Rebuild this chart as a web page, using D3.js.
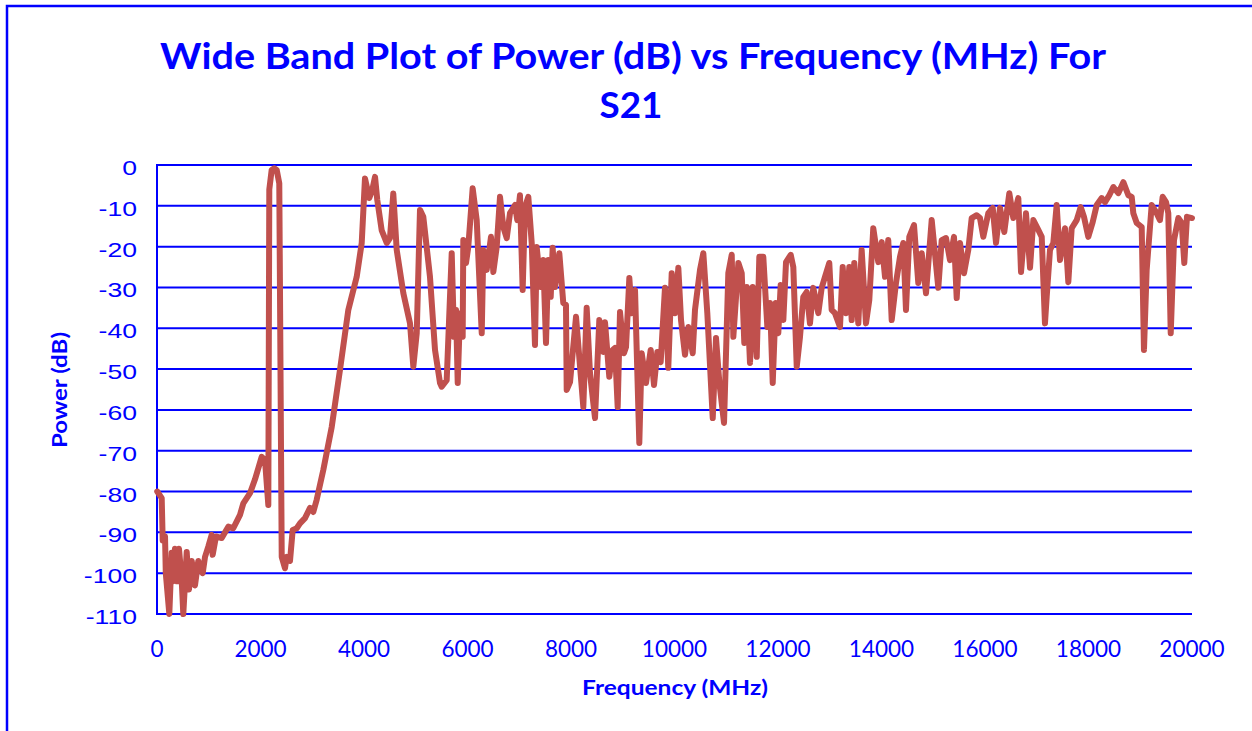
<!DOCTYPE html>
<html>
<head>
<meta charset="utf-8">
<script src="https://cdn.jsdelivr.net/npm/d3@7"></script>
<style>
  html, body { margin: 0; padding: 0; background: #fff; }
  svg { display: block; }
</style>
</head>
<body>
<svg id="chart" width="1252" height="731"></svg>
<script>
const titleLines = ["Wide Band Plot of Power (dB) vs Frequency (MHz) For", "S21"];
const xLabel = "Frequency (MHz)";
const yLabel = "Power (dB)";
const xTicks = [0, 2000, 4000, 6000, 8000, 10000, 12000, 14000, 16000, 18000, 20000];
const yTicks = [0, -10, -20, -30, -40, -50, -60, -70, -80, -90, -100, -110];

const freq = [
  5, 91, 110, 155, 170, 238, 284, 309, 348, 386, 425, 477, 508, 574, 618, 671, 734, 798, 883, 928,
  991, 1057, 1076, 1140, 1250, 1378, 1474, 1604, 1668, 1797, 1894, 2023, 2087, 2151, 2170, 2216, 2265, 2313, 2363, 2410,
  2473, 2506, 2570, 2622, 2700, 2763, 2860, 2957, 3020, 3086, 3214, 3376, 3536, 3697, 3859, 3956, 4019, 4102, 4160, 4213,
  4257, 4342, 4439, 4502, 4566, 4632, 4760, 4889, 4953, 5019, 5082, 5146, 5275, 5372, 5469, 5501, 5598, 5695, 5739, 5778,
  5811, 5855, 5907, 5919, 5971, 6015, 6100, 6178, 6275, 6306, 6371, 6454, 6499, 6564, 6628, 6692, 6758, 6821, 6918, 6962,
  7014, 7066, 7111, 7175, 7241, 7304, 7337, 7414, 7464, 7517, 7561, 7608, 7646, 7691, 7774, 7851, 7903, 7917, 7981, 8097,
  8238, 8303, 8367, 8464, 8547, 8624, 8657, 8740, 8806, 8850, 8902, 8947, 9024, 9063, 9127, 9173, 9237, 9320, 9366, 9449,
  9540, 9604, 9668, 9733, 9816, 9880, 9946, 10010, 10074, 10126, 10203, 10267, 10352, 10396, 10493, 10557, 10634, 10739, 10802, 10866,
  10957, 11040, 11106, 11137, 11234, 11299, 11349, 11396, 11459, 11511, 11589, 11639, 11716, 11794, 11846, 11898, 11956, 12006, 12052, 12103,
  12155, 12246, 12296, 12362, 12425, 12489, 12555, 12618, 12682, 12779, 12844, 12908, 12991, 13037, 13101, 13198, 13250, 13314, 13378, 13424,
  13474, 13552, 13617, 13700, 13764, 13841, 13938, 14004, 14068, 14131, 14197, 14280, 14357, 14421, 14473, 14537, 14628, 14711, 14777, 14860,
  14970, 15098, 15163, 15246, 15324, 15401, 15453, 15517, 15594, 15677, 15743, 15840, 15903, 15967, 16064, 16149, 16213, 16290, 16373, 16470,
  16547, 16644, 16696, 16792, 16870, 16934, 17030, 17096, 17159, 17192, 17256, 17320, 17385, 17449, 17546, 17610, 17675, 17772, 17849, 17913,
  17996, 18081, 18159, 18255, 18319, 18402, 18480, 18576, 18673, 18770, 18835, 18866, 18932, 19028, 19072, 19124, 19221, 19317, 19381, 19433,
  19498, 19542, 19589, 19652, 19736, 19801, 19851, 19903, 20000
];
const power = [
  -80, -81.6, -92, -91, -100, -110, -95, -102, -94, -102, -94, -101.6, -110, -94.8, -104, -97, -103, -97, -100, -96,
  -93.5, -90.6, -95.5, -91, -91.4, -88.6, -89, -85.7, -82.9, -80.4, -77, -71.5, -72.3, -83.3, -6, -1.2, -0.8, -1.2, -4.5, -96,
  -98.8, -96, -97, -89.4, -89, -87.8, -86.5, -84, -85, -82, -74.7, -64.2, -50.2, -35.5, -27.4, -19.1, -3.3, -8.1, -6.1, -2.9,
  -8.6, -16, -19.1, -17.9, -7, -20.8, -31.4, -38.8, -49.4, -41.2, -11, -12.7, -27.4, -45.3, -53.4, -54.3, -52.7, -21.6, -42.1, -35.5,
  -53.4, -36.3, -42.1, -18.4, -24, -20.1, -5.7, -13.5, -41.2, -20.8, -25.7, -17.6, -26.2, -20.1, -7.8, -15.2, -17.9, -11.8, -9.8, -13.5,
  -7.4, -30.6, -10.3, -7.8, -19.1, -44.1, -20.1, -29.9, -23.3, -43.6, -23.3, -32.3, -20.3, -29.9, -21.6, -33.8, -34.3, -55.1, -53.2, -37.2,
  -59.3, -35, -51, -62, -38, -45.8, -38.5, -51.9, -45.3, -44.8, -59.3, -36, -46.1, -44.6, -27.7, -36.3, -30.6, -68.1, -46.1, -53.4,
  -45.3, -53.9, -45.8, -48.3, -30.1, -49.7, -26.5, -36.3, -25.2, -38, -46.5, -39.7, -46.1, -35.5, -25.7, -21.6, -36.3, -62, -42.4, -53.2,
  -63.2, -26.5, -22, -42.1, -24, -26.5, -43.6, -29.9, -48.5, -29.9, -47, -22.5, -22.5, -39.7, -33.8, -53.4, -33.8, -41.2, -29.4, -38,
  -23.8, -22, -25, -49.4, -42.1, -32.3, -31.1, -38.8, -30.1, -36.3, -30.1, -27.4, -24, -35.5, -36.3, -39.7, -25, -36.3, -25, -38,
  -24, -38.8, -20.8, -38.8, -33.1, -15.5, -23.8, -18.9, -27.4, -18.4, -38, -28.9, -22.5, -19.1, -35.5, -17.6, -14.7, -28.9, -21.6, -31.4,
  -13.5, -30.1, -18.4, -17.9, -23.3, -17.6, -32.6, -19.1, -26.5, -20.8, -13, -12.3, -13, -17.6, -11.8, -10.5, -19.1, -10.5, -16.4, -6.9,
  -13, -8.1, -26.2, -11.8, -25.2, -13.5, -15.9, -17.6, -38.8, -32.3, -20.8, -19.1, -9.8, -23.3, -15.5, -28.7, -15.5, -13.5, -10.3, -12.7,
  -17.6, -14, -9.8, -8.1, -9.1, -7.4, -5.4, -6.9, -4.2, -7.4, -7.8, -11.8, -14.2, -15.2, -45.3, -25.7, -9.8, -11.8, -13.5, -7.8,
  -9.1, -11.8, -41.2, -18.4, -13, -14.2, -24, -12.7, -13
];

const svg = d3.select("#chart");
const blue = "#0000FF";
const lineColor = "#C0504D";

const plot = { left: 157, right: 1192, top: 165, bottom: 614 };
const x = d3.scaleLinear().domain([0, 20000]).range([plot.left, plot.right]);
const y = d3.scaleLinear().domain([-110, 0]).range([plot.bottom, plot.top]);

// outer frame
svg.append("rect")
  .attr("x", 7).attr("y", 6).attr("width", 1300).attr("height", 800)
  .attr("fill", "none").attr("stroke", blue).attr("stroke-width", 2.5);

// gridlines
svg.append("g").selectAll("line").data(yTicks).join("line")
  .attr("x1", plot.left).attr("x2", plot.right)
  .attr("y1", d => y(d)).attr("y2", d => y(d))
  .attr("stroke", blue).attr("stroke-width", 2);

// left axis line
svg.append("line")
  .attr("x1", plot.left).attr("x2", plot.left)
  .attr("y1", plot.top - 1).attr("y2", plot.bottom + 1)
  .attr("stroke", blue).attr("stroke-width", 2);

// y tick labels
svg.append("g").selectAll("text").data(yTicks).join("text")
  .attr("transform", d => `translate(137,${y(d) + 10}) scale(1.33,1)`)
  .attr("text-anchor", "end")
  .attr("font-family", "'Liberation Sans', Arial, sans-serif")
  .attr("font-size", 20)
  .attr("fill", blue)
  .text(d => d);

// x tick labels
svg.append("g").selectAll("text").data(xTicks).join("text")
  .attr("x", d => x(d)).attr("y", 657)
  .attr("text-anchor", "middle")
  .attr("font-family", "Lato, 'Open Sans', sans-serif")
  .attr("font-size", 22.5)
  .attr("fill", blue)
  .text(d => d);

// data line
const pts = freq.map((f, i) => [f, power[i]]);
svg.append("path")
  .datum(pts)
  .attr("fill", "none")
  .attr("stroke", lineColor)
  .attr("stroke-width", 6)
  .attr("stroke-linejoin", "round")
  .attr("stroke-linecap", "round")
  .attr("d", d3.line().x(d => x(d[0])).y(d => y(d[1])));

// title
svg.append("text")
  .attr("x", 633).attr("y", 69)
  .attr("text-anchor", "middle")
  .attr("font-family", "Lato, 'Open Sans', sans-serif")
  .attr("font-weight", "bold")
  .attr("font-size", 37)
  .attr("fill", blue)
  .attr("textLength", 946).attr("lengthAdjust", "spacingAndGlyphs")
  .text(titleLines[0]);
svg.append("text")
  .attr("x", 631).attr("y", 118)
  .attr("text-anchor", "middle")
  .attr("font-family", "Lato, 'Open Sans', sans-serif")
  .attr("font-weight", "bold")
  .attr("font-size", 37)
  .attr("fill", blue)
  .attr("textLength", 63).attr("lengthAdjust", "spacingAndGlyphs")
  .text(titleLines[1]);

// axis titles
svg.append("text")
  .attr("x", 675).attr("y", 695)
  .attr("text-anchor", "middle")
  .attr("font-family", "Lato, 'Open Sans', sans-serif")
  .attr("font-weight", "bold")
  .attr("font-size", 21)
  .attr("fill", blue)
  .attr("textLength", 186).attr("lengthAdjust", "spacingAndGlyphs")
  .text(xLabel);

svg.append("text")
  .attr("transform", "translate(67,390) rotate(-90)")
  .attr("text-anchor", "middle")
  .attr("font-family", "Lato, 'Open Sans', sans-serif")
  .attr("font-weight", "bold")
  .attr("font-size", 21)
  .attr("fill", blue)
  .attr("textLength", 116).attr("lengthAdjust", "spacingAndGlyphs")
  .text(yLabel);
</script>
</body>
</html>
